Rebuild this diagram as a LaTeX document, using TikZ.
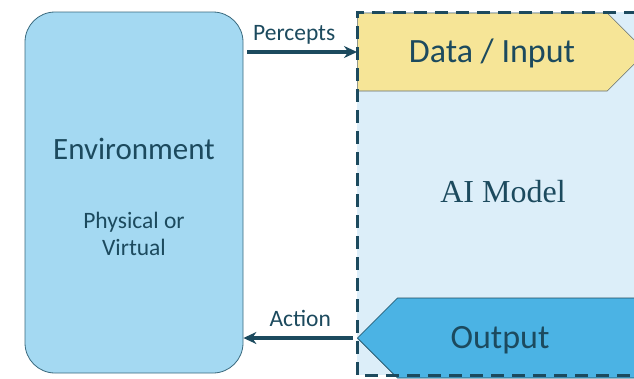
\documentclass[tikz,border=0pt]{standalone}
\usepackage{fontspec}
\setmainfont{Carlito}
\newfontfamily\aiserif{Liberation Serif}
\usetikzlibrary{positioning, arrows.meta, shapes.symbols}
\definecolor{envblue}{HTML}{A4D9F2}
\definecolor{envedge}{HTML}{3A6A7E}
\definecolor{modelbg}{HTML}{DCEEF9}
\definecolor{datayellow}{HTML}{F6E597}
\definecolor{outblue}{HTML}{4BB3E4}
\definecolor{darkteal}{HTML}{1C4A5E}

\begin{document}
\begin{tikzpicture}[x=1pt, y=-1pt, >={Stealth[length=13pt, width=12pt]},
  flow/.style={->, line width=3.5pt, draw=darkteal, shorten <=4pt},
  lbl/.style={font=\fontsize{23.5}{26}\selectfont, text=darkteal},
  bigtxt/.style={font=\fontsize{34}{36}\selectfont, text=darkteal}]
  \clip (0,0) rectangle (634,378);
  \fill[white] (0,0) rectangle (634,378);
  % environment block
  \node[rounded corners=30pt, draw=envedge, fill=envblue, line width=0.8pt,
        minimum width=218pt, minimum height=361pt] (env) at (134,192.5) {};
  \node[bigtxt, font=\fontsize{31}{34}\selectfont] (envname) at (134,149) {Environment};
  \node[lbl, align=center, font=\fontsize{23.5}{27}\selectfont] (envkind) at (134,234) {Physical or\\Virtual};
  % model area
  \fill[modelbg] (357,12) rectangle (700,375);
  \node[signal, signal to=east, signal pointer angle=90, draw=gray!70!darkteal,
        fill=datayellow, line width=0.6pt, minimum width=289pt, minimum height=78pt,
        inner sep=0pt, anchor=west] (data) at (357,52) {};
  \node[signal, signal to=west, signal pointer angle=90, draw=darkteal,
        fill=outblue, line width=0.6pt, minimum width=293pt, minimum height=80pt,
        inner sep=0pt, anchor=west] (out) at (357,338) {};
  \node[bigtxt] (datatxt) at (492,53) {Data / Input};
  \node[bigtxt] (outtxt) at (500,340) {Output};
  \node[font=\aiserif\fontsize{32}{34}\selectfont, text=darkteal] (model) at (503,192) {AI Model};
  \draw[darkteal, line width=3pt, dash pattern=on 13pt off 8pt]
    (700,12) -- (357,12) -- (357,375) -- (700,375);
  % percepts and action
  \draw[flow] (env.east |- data.west) -- (data.west)
    node[lbl, midway, above=3pt, xshift=-6pt] (perc) {Percepts};
  \draw[flow] (out.west) -- (env.east |- out.west)
    node[lbl, midway, above=6pt] (act) {Action};
\end{tikzpicture}
\end{document}
